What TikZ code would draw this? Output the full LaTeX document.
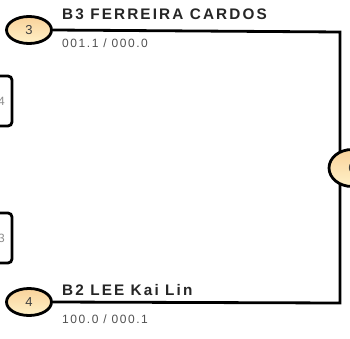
\documentclass[tikz,border=0pt]{standalone}
\usepackage{fontspec}
\setmainfont{Liberation Sans}
\usetikzlibrary{shapes.geometric}
\definecolor{ovtop}{HTML}{F9D29A}
\definecolor{ovbot}{HTML}{FFF1C8}
\definecolor{numgray}{HTML}{505050}
\tikzset{
  oval/.style={ellipse, draw=black, line width=2.8pt, top color=ovtop, bottom color=ovbot,
     minimum width=45pt, minimum height=27pt, inner sep=0pt, font=\fontsize{13}{13}\selectfont, text=black!75},
  sidebox/.style={draw=black, line width=2.8pt, rounded corners=4pt, fill=white, minimum width=56pt, minimum height=50pt, inner sep=0pt},
  wire/.style={draw=black, line width=2.8pt},
  who/.style={anchor=base west, inner sep=0pt, font=\bfseries\fontsize{15.3}{16}\selectfont\addfontfeatures{LetterSpace=14}, text=black!85},
  score/.style={anchor=base west, inner sep=0pt, font=\fontsize{12}{13}\selectfont\addfontfeatures{LetterSpace=13}, text=numgray}
}
\begin{document}
\begin{tikzpicture}[x=1pt,y=1pt]
\useasboundingbox (0,0) rectangle (350,338);
\fill[white] (0,0) rectangle (350,338);
% left boxes (cut off)
\node[sidebox] (bx1) at (-16,237) {};
\node[anchor=east, inner sep=0pt, text=black!45, font=\fontsize{12}{12}\selectfont] (bx1t) at (5,237) {4};
\node[sidebox] (bx2) at (-16,100) {};
\node[anchor=east, inner sep=0pt, text=black!45, font=\fontsize{12}{12}\selectfont] (bx2t) at (5,100) {3};
% corners of connector
\coordinate (tr) at (340,306);
\coordinate (br) at (340,35);
% top and bottom nodes
\node[oval] (n3) at (29,308) {3};
\node[oval] (n4) at (29,36) {4};
\draw[wire] (n3.east) -- (tr) -- (br) -- (n4.east);
% right node
\node[oval, minimum width=46pt, minimum height=37pt] (n6) at (352,170) {6};
\node[who] (t3) at (62,318) {B3 FERREIRA CARDOS};
\node[score] (s3) at (62,290) {001.1 / 000.0};
\node[who] (t4) at (62,43) {B2 LEE Kai Lin};
\node[score] (s4) at (62,15) {100.0 / 000.1};
\end{tikzpicture}
\end{document}
